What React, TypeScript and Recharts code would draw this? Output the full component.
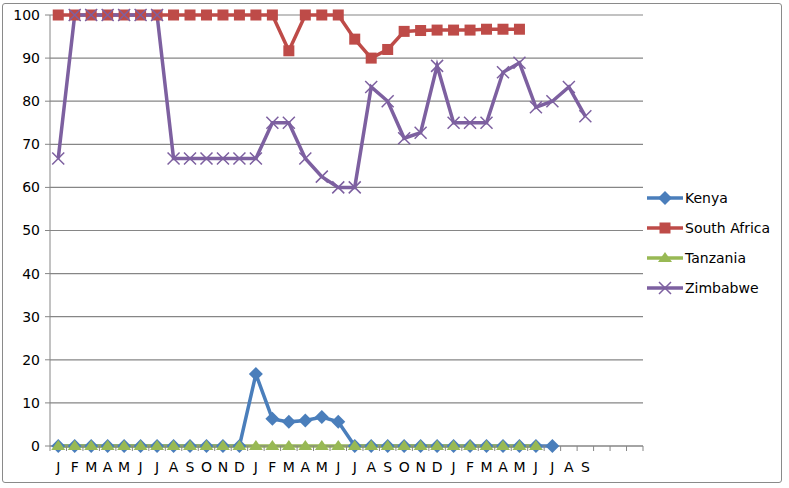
import React from 'react'
import { LineChart, Line, XAxis, YAxis, CartesianGrid, Legend } from 'recharts'

const MONTHS = ['J', 'F', 'M', 'A', 'M', 'J', 'J', 'A', 'S', 'O', 'N', 'D',
  'J', 'F', 'M', 'A', 'M', 'J', 'J', 'A', 'S', 'O', 'N', 'D',
  'J', 'F', 'M', 'A', 'M', 'J', 'J', 'A', 'S', '', '', '']

const kenya = [0, 0, 0, 0, 0, 0, 0, 0, 0, 0, 0, 0,
  16.7, 6.3, 5.6, 5.9, 6.7, 5.6, 0, 0, 0, 0, 0, 0,
  0, 0, 0, 0, 0, 0, 0, null, null, null, null, null]

const southAfrica = [100, 100, 100, 100, 100, 100, 100, 100, 100, 100, 100, 100,
  100, 100, 91.7, 100, 100, 100, 94.4, 90, 92, 96.2, 96.4, 96.5,
  96.5, 96.5, 96.7, 96.7, 96.7, null, null, null, null, null, null, null]

const tanzania = [0, 0, 0, 0, 0, 0, 0, 0, 0, 0, 0, 0,
  0, 0, 0, 0, 0, 0, 0, 0, 0, 0, 0, 0,
  0, 0, 0, 0, 0, 0, null, null, null, null, null, null]

const zimbabwe = [66.7, 100, 100, 100, 100, 100, 100, 66.7, 66.7, 66.7, 66.7, 66.7,
  66.7, 75, 75, 66.7, 62.5, 60, 60, 83.3, 80, 71.4, 72.7, 88.2,
  75, 75, 75, 86.7, 88.9, 78.6, 80, 83.3, 76.5, null, null, null]

const Y_TICKS = [0, 10, 20, 30, 40, 50, 60, 70, 80, 90, 100]

const BLUE = '#4a7ebb'
const RED = '#be4b48'
const GREEN = '#98b954'
const PURPLE = '#7d60a0'
const AXIS = '#868686'
const FONT = 'DejaVu Sans, sans-serif'

const data = MONTHS.map((m, i) => ({
  idx: i,
  month: m,
  Kenya: kenya[i],
  'South Africa': southAfrica[i],
  Tanzania: tanzania[i],
  Zimbabwe: zimbabwe[i],
}))

const HALF = 593 / 72

function marker(kind: string, cx: number, cy: number, color: string) {
  if (kind === 'diamond') {
    return <path d={`M${cx},${cy - 7} L${cx + 7},${cy} L${cx},${cy + 7} L${cx - 7},${cy} Z`} fill={color} />
  }
  if (kind === 'square') {
    return <rect x={cx - 5.5} y={cy - 5.5} width={11} height={11} fill={color} />
  }
  if (kind === 'triangle') {
    return <path d={`M${cx},${cy - 6} L${cx + 7},${cy + 4} L${cx - 7},${cy + 4} Z`} fill={color} />
  }
  return (
    <path d={`M${cx - 6},${cy - 6} L${cx + 6},${cy + 6} M${cx - 6},${cy + 6} L${cx + 6},${cy - 6}`}
      stroke={color} strokeWidth={1.5} fill="none" />
  )
}

const makeDot = (kind: string, color: string) => (props: any) => {
  const { cx, cy, value, index } = props
  if (value == null || cx == null || cy == null) return <g key={`e${index}`} />
  return <g key={`d${index}`}>{marker(kind, cx, cy, color)}</g>
}

const MonthTick = (props: any) => {
  const { x, y, payload, index } = props
  const last = index === MONTHS.length - 1
  return (
    <g>
      <line x1={x - HALF} y1={y - 8} x2={x - HALF} y2={y - 3} stroke={AXIS} />
      {last && <line x1={x + HALF} y1={y - 8} x2={x + HALF} y2={y - 3} stroke={AXIS} />}
      <text x={x} y={y + 18} textAnchor="middle" fontFamily={FONT} fontSize={14} fill="#000">
        {MONTHS[payload.value]}
      </text>
    </g>
  )
}

const SERIES = [
  { key: 'Kenya', color: BLUE, kind: 'diamond' },
  { key: 'South Africa', color: RED, kind: 'square' },
  { key: 'Tanzania', color: GREEN, kind: 'triangle' },
  { key: 'Zimbabwe', color: PURPLE, kind: 'x' },
]

const LegendBox = () => (
  <div>
    {SERIES.map(s => (
      <div key={s.key} style={{ display: 'flex', alignItems: 'center', height: 30 }}>
        <svg width={38} height={16}>
          <line x1={1} y1={8} x2={37} y2={8} stroke={s.color} strokeWidth={3.5} />
          {marker(s.kind, 19, 8, s.color)}
        </svg>
        <span style={{ fontFamily: FONT, fontSize: 14, color: '#000', marginLeft: 1 }}>{s.key}</span>
      </div>
    ))}
  </div>
)

export default function App() {
  return (
    <div style={{ position: 'absolute', left: 0, top: 0, width: 789, height: 488, background: '#fff' }}>
      <div style={{
        position: 'absolute', left: 2, top: 3, width: 778, height: 478,
        border: '1.5px solid #8a8a8a', borderRadius: 3,
      }} />
      <LineChart width={789} height={488} data={data}
        margin={{ top: 15, right: 146, bottom: 0, left: 0 }}>
        <CartesianGrid vertical={false} stroke={AXIS} strokeWidth={1.2} />
        <XAxis dataKey="idx" type="category" interval={0} tickLine={false}
          axisLine={{ stroke: AXIS }} padding={{ left: HALF, right: HALF }}
          tick={<MonthTick />} height={42} />
        <YAxis domain={[0, 100]} ticks={Y_TICKS} width={50} tickSize={5} tickMargin={5}
          axisLine={{ stroke: AXIS }} tickLine={{ stroke: AXIS }}
          tick={{ fontFamily: FONT, fontSize: 14, fill: '#000' }} />
        <Legend layout="vertical" align="center" verticalAlign="middle"
          wrapperStyle={{ left: 646, top: 183, width: 140 }} content={<LegendBox />} />
        {SERIES.map(s => (
          <Line key={s.key} dataKey={s.key} stroke={s.color} strokeWidth={3.5}
            dot={makeDot(s.kind, s.color)} activeDot={false}
            isAnimationActive={false} connectNulls={false} />
        ))}
      </LineChart>
    </div>
  )
}
